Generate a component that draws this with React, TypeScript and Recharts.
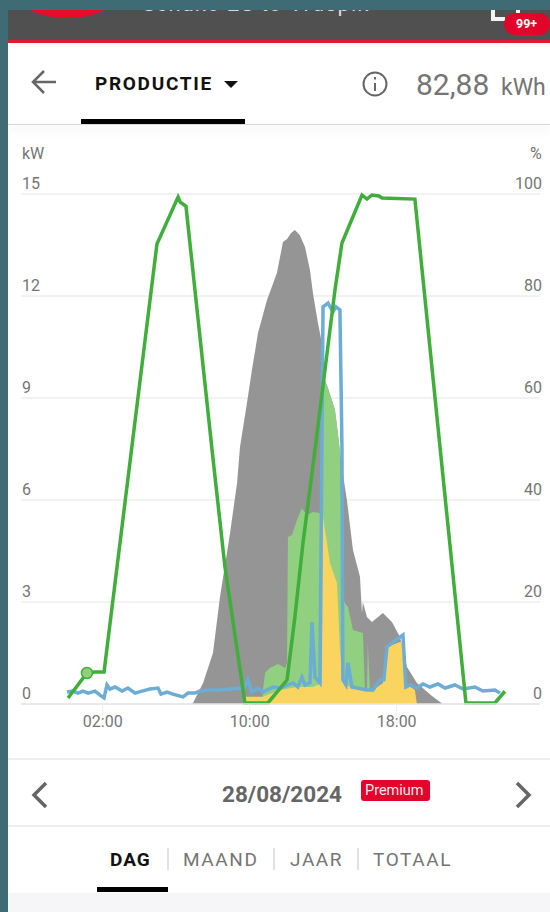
import { ComposedChart, Area, Line, XAxis, YAxis, CartesianGrid, ReferenceDot } from 'recharts';

const xTicks = [2, 10, 18];
const kwTicks = [0, 3, 6, 9, 12, 15];
const pctTicks = [0, 20, 40, 60, 80, 100];

const grayHours = [6.75, 6.91, 7.46, 8.0, 8.38, 8.93, 9.31, 9.47, 9.85, 10.12, 10.45, 10.94, 11.48, 11.81, 12.03, 12.25, 12.46, 12.73, 13.01, 13.28, 13.44, 13.71, 13.93, 14.04, 14.26, 14.64, 15.02, 15.29, 15.62, 16.0, 16.11, 16.16, 16.38, 16.65, 17.25, 17.74, 18.18, 18.56, 19.1, 19.97, 20.51];
const grayKw = [0, 0.03, 0.62, 1.5, 3.15, 5.03, 6.5, 7.56, 8.85, 9.82, 10.91, 11.88, 12.68, 13.59, 13.68, 13.85, 13.94, 13.79, 13.44, 12.76, 12.09, 11.21, 10.62, 9.62, 9.29, 8.65, 6.94, 6.0, 4.53, 3.74, 2.68, 3.0, 2.56, 2.41, 2.68, 2.41, 1.97, 1.09, 0.62, 0.21, 0];

const greenHours = [10.67, 10.72, 10.83, 11.1, 11.54, 11.92, 12.03, 12.08, 12.3, 12.57, 12.84, 13.12, 13.44, 13.82, 13.93, 13.99, 14.26, 14.64, 14.91, 15.07, 15.18, 15.35, 15.62, 16.16, 16.27, 16.38, 16.43, 16.54, 16.76];
const greenKw = [0, 0.41, 0.91, 1.06, 1.18, 1.06, 1.21, 4.91, 4.97, 5.41, 5.76, 5.56, 5.65, 5.62, 5.5, 9.62, 9.29, 8.65, 7.47, 3.15, 2.97, 2.85, 2.18, 2.09, 0.41, 0.41, 1.79, 0.41, 0];

const yellowHours = [9.74, 9.75, 10.72, 11.65, 12.57, 13.44, 13.93, 13.99, 14.37, 14.75, 14.91, 15.07, 15.46, 16.71, 17.25, 17.47, 18.18, 18.34, 18.45, 18.99, 19.1];
const yellowKw = [0, 0.21, 0.21, 0.41, 0.5, 0.5, 0.62, 5.5, 4.15, 3.56, 1.59, 0.62, 0.5, 0.41, 0.62, 1.68, 1.82, 1.82, 0.62, 0.41, 0];

const blueHours = [0.05, 0.38, 0.65, 0.93, 1.2, 1.58, 1.85, 2.07, 2.23, 2.39, 2.67, 3.05, 3.37, 3.76, 4.14, 4.57, 5.01, 5.17, 5.5, 5.82, 6.37, 6.64, 7.02, 7.29, 7.84, 8.38, 8.93, 9.47, 9.63, 9.9, 10.12, 10.45, 10.72, 11.26, 11.65, 12.35, 12.62, 12.84, 13.01, 13.28, 13.39, 13.55, 13.82, 13.99, 14.26, 14.53, 14.69, 14.91, 15.02, 15.07, 15.24, 15.35, 15.56, 16.38, 16.71, 17.09, 17.3, 17.47, 17.8, 18.34, 18.5, 18.72, 19.1, 19.43, 19.81, 20.25, 20.63, 21.17, 21.61, 22.26, 22.69, 23.35, 23.62];
const blueKw = [0.35, 0.38, 0.32, 0.38, 0.32, 0.38, 0.26, 0.18, 0.56, 0.44, 0.5, 0.38, 0.47, 0.32, 0.38, 0.44, 0.47, 0.29, 0.35, 0.29, 0.21, 0.32, 0.32, 0.38, 0.41, 0.41, 0.44, 0.47, 0.41, 0.71, 0.35, 0.47, 0.35, 0.5, 0.47, 0.62, 0.5, 0.79, 0.56, 0.62, 2.41, 0.79, 0.62, 11.68, 11.79, 11.53, 11.68, 11.59, 7.56, 0.71, 0.56, 1.21, 0.5, 0.41, 0.41, 0.71, 0.71, 1.68, 1.82, 2.03, 0.5, 0.56, 0.47, 0.59, 0.5, 0.59, 0.47, 0.56, 0.44, 0.5, 0.38, 0.41, 0.32];

const socHours = [0.11, 1.14, 1.58, 2.07, 4.95, 6.1, 6.22, 6.53, 7.95, 8.65, 9.74, 10.99, 12.03, 12.46, 12.9, 13.55, 14.64, 15.02, 16.11, 16.38, 16.65, 17.03, 17.2, 18.99, 21.77, 23.35, 23.89];
const socPct = [1.18, 6.08, 6.27, 6.27, 90.2, 99.4, 98.4, 97.6, 49.8, 26.9, 0.2, 0.2, 4.7, 17.1, 31.6, 49.8, 81.2, 90.4, 99.8, 99.0, 99.8, 99.6, 99.2, 99.0, 0.2, 0.2, 2.5];

const tabs = ['MAAND', 'JAAR', 'TOTAAL'];

function buildTable() {
  const rows = new Map<number, any>();
  const add = (hours: number[], values: number[], key: string) => {
    hours.forEach((h, i) => {
      if (!rows.has(h)) rows.set(h, { hour: h, gray: null, green: null, yellow: null, blue: null, soc: null });
      rows.get(h)[key] = values[i];
    });
  };
  add(grayHours, grayKw, 'gray');
  add(greenHours, greenKw, 'green');
  add(yellowHours, yellowKw, 'yellow');
  add(blueHours, blueKw, 'blue');
  add(socHours, socPct, 'soc');
  return [...rows.values()].sort((a, b) => a.hour - b.hour);
}

const data = buildTable();

const formatHour = (h: number) => `${String(h).padStart(2, '0')}:00`;

function LeftTick({ y, payload }: any) {
  return (
    <text x={22} y={y - 5} fontSize={16} fill="#757575" textAnchor="start">
      {payload.value}
    </text>
  );
}

function RightTick({ y, payload }: any) {
  return (
    <text x={542} y={y - 5} fontSize={16} fill="#757575" textAnchor="end">
      {payload.value}
    </text>
  );
}

function Label({ x, y, size, color, weight, spacing, children }: any) {
  return (
    <span
      style={{
        position: 'absolute',
        left: x,
        top: y,
        transform: 'translateY(-50%)',
        fontSize: size,
        color,
        fontWeight: weight ?? 400,
        letterSpacing: spacing ?? 0,
        lineHeight: 1,
        whiteSpace: 'nowrap',
      }}
    >
      {children}
    </span>
  );
}

function Box({ x, y, w, h, bg, radius, shadow }: any) {
  return (
    <div
      style={{
        position: 'absolute',
        left: x,
        top: y,
        width: w,
        height: h,
        background: bg,
        borderRadius: radius ?? 0,
        boxShadow: shadow,
      }}
    />
  );
}

export default function App() {
  return (
    <div style={{ position: 'fixed', left: 0, top: 0, width: 550, height: 912, background: '#3f6c74', overflow: 'hidden', fontFamily: 'Roboto, sans-serif' }}>
      <div style={{ position: 'absolute', left: 0, top: 0, width: 550, height: 912, background: '#ffffff', clipPath: 'inset(10px 0 0 8px)' }}>
        {/* app bar */}
        <Box x={0} y={0} w={550} h={40} bg="#505050" />
        <Box x={0} y={40} w={550} h={3} bg="#e2182f" />
        <svg width={550} height={43} style={{ position: 'absolute', left: 0, top: 0 }}>
          <ellipse cx={67} cy={-2} rx={46} ry={20} fill="#e30f26" />
          <path d="M493 8 V19 H505 M518 8 V19" stroke="#f2f2f2" strokeWidth={4} fill="none" />
        </svg>
        <Label x={142} y={4} size={22} color="#d9d9d9" spacing={1}>Schuko 2S to Vrdspik</Label>
        <Box x={504} y={13} w={46} h={22} bg="#e2042a" radius={11} />
        <Label x={516} y={24} size={12.5} color="#ffffff" weight={700}>99+</Label>

        {/* header */}
        <Box x={8} y={124} w={542} h={1} bg="#d8d8d8" shadow="0 4px 10px rgba(0,0,0,0.25)" />
        <svg width={550} height={125} style={{ position: 'absolute', left: 0, top: 0 }}>
          <path d="M56 82 H34 M44 71 L33 82 L44 93" stroke="#666666" strokeWidth={2.5} fill="none" />
          <path d="M224 81 H238 L231 88 Z" fill="#111111" />
          <circle cx={375} cy={84} r={11.5} stroke="#666666" strokeWidth={2} fill="none" />
          <path d="M375 83 V91 M375 77 V79.5" stroke="#666666" strokeWidth={2} />
        </svg>
        <Label x={95} y={83} size={19} color="#111111" weight={700} spacing={1.7}>PRODUCTIE</Label>
        <Box x={81} y={119} w={164} h={5} bg="#000000" />
        <Label x={416} y={85} size={30} color="#757575">82,88</Label>
        <Label x={501} y={87} size={23} color="#757575">kWh</Label>
        <Label x={22} y={154} size={16} color="#757575">kW</Label>
        <Label x={530} y={154} size={16} color="#757575">%</Label>

        {/* chart */}
        <div style={{ position: 'absolute', left: 0, top: 0 }}>
          <ComposedChart width={550} height={745} data={data} margin={{ top: 194, right: 9, bottom: 0, left: 20 }}>
            <CartesianGrid yAxisId="kw" vertical={false} stroke="#eeeeee" strokeWidth={1.5} />
            <XAxis
              dataKey="hour"
              type="number"
              domain={[-2.45, 25.8]}
              ticks={xTicks}
              tickFormatter={formatHour}
              height={41}
              tickSize={12}
              tickMargin={0}
              tick={{ fontSize: 16, fill: '#757575' }}
              tickLine={{ stroke: '#eeeeee' }}
              axisLine={{ stroke: '#e6e6e6', strokeWidth: 1.5 }}
            />
            <YAxis yAxisId="kw" domain={[0, 15]} ticks={kwTicks} interval={0} width={1} axisLine={false} tickLine={false} tick={(p: any) => <LeftTick {...p} />} />
            <YAxis yAxisId="pct" orientation="right" domain={[0, 100]} ticks={pctTicks} interval={0} width={1} axisLine={false} tickLine={false} tick={(p: any) => <RightTick {...p} />} />
            <Area yAxisId="kw" dataKey="gray" type="linear" stroke="none" fill="#959595" fillOpacity={1} connectNulls dot={false} isAnimationActive={false} />
            <Area yAxisId="kw" dataKey="green" type="linear" stroke="none" fill="#90d080" fillOpacity={1} connectNulls dot={false} isAnimationActive={false} />
            <Area yAxisId="kw" dataKey="yellow" type="linear" stroke="none" fill="#fbd35f" fillOpacity={1} connectNulls dot={false} isAnimationActive={false} />
            <Line yAxisId="kw" dataKey="blue" type="linear" stroke="#6badd4" strokeWidth={3.5} connectNulls dot={false} isAnimationActive={false} />
            <Line yAxisId="pct" dataKey="soc" type="linear" stroke="#3fae3a" strokeWidth={3.5} connectNulls dot={false} isAnimationActive={false} />
            <ReferenceDot yAxisId="pct" x={1.14} y={6.08} r={5.5} fill="#8fd07f" stroke="#3fae3a" strokeWidth={1.5} />
          </ComposedChart>
        </div>

        {/* date row */}
        <Box x={8} y={758} w={542} h={2} bg="#eeeeee" />
        <svg width={550} height={912} style={{ position: 'absolute', left: 0, top: 0, pointerEvents: 'none' }}>
          <path d="M46 783 L34 795 L46 807" stroke="#666666" strokeWidth={3.5} fill="none" />
          <path d="M517 783 L529 795 L517 807" stroke="#666666" strokeWidth={3.5} fill="none" />
          <path d="M168 848 V870 M274 848 V870 M358 848 V870" stroke="#d9d9d9" strokeWidth={1.5} />
        </svg>
        <Label x={222} y={794} size={22.5} color="#666666" weight={700}>28/08/2024</Label>
        <Box x={361} y={780} w={69} h={21} bg="#e2042a" radius={3} />
        <Label x={365} y={791} size={14.5} color="#ffe8ea">Premium</Label>
        <Box x={8} y={825} w={542} h={1.5} bg="#eeeeee" />

        {/* period tabs */}
        <Label x={110} y={859} size={19} color="#111111" weight={700} spacing={1}>DAG</Label>
        <Label x={183} y={859} size={19} color="#757575" spacing={1.6}>{tabs[0]}</Label>
        <Label x={290} y={859} size={19} color="#757575" spacing={1.6}>{tabs[1]}</Label>
        <Label x={373} y={859} size={19} color="#757575" spacing={1.6}>{tabs[2]}</Label>
        <Box x={97} y={887} w={71} h={5} bg="#000000" />
        <Box x={8} y={893} w={542} h={19} bg="#f6f6f8" />
      </div>
    </div>
  );
}
